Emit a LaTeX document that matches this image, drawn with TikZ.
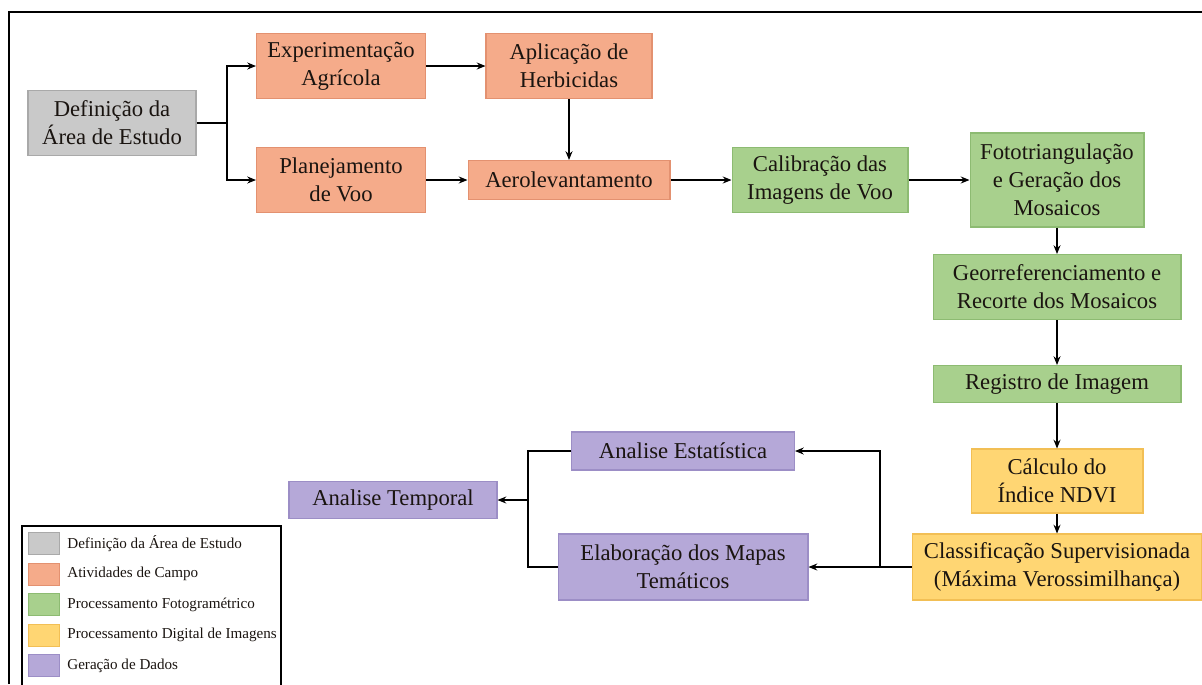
\documentclass[tikz,border=0pt]{standalone}
\usepackage{fontspec}
\setmainfont{Liberation Serif}
\newfontfamily\fonteserif{Liberation Serif}
\usepackage{tikz}
\usetikzlibrary{arrows.meta, positioning}

\definecolor{cinzaF}{HTML}{C9C9C9}
\definecolor{cinzaB}{HTML}{A9A9A9}
\definecolor{laranjaF}{HTML}{F5AB8A}
\definecolor{laranjaB}{HTML}{E39170}
\definecolor{verdeF}{HTML}{A8D08D}
\definecolor{verdeB}{HTML}{8DBB72}
\definecolor{amareloF}{HTML}{FFD673}
\definecolor{amareloB}{HTML}{F2BF55}
\definecolor{roxoF}{HTML}{B5A8D8}
\definecolor{roxoB}{HTML}{9C8EC6}
\definecolor{textoC}{HTML}{1A1410}

\begin{document}
\begin{tikzpicture}[x=0.02cm,y=-0.02cm,>={Stealth[length=5pt,width=4pt]},
	caixa/.style={draw,line width=0.6pt,inner sep=0pt,align=center,text=textoC,
		font=\fonteserif\fontsize{12.9}{15.9}\selectfont},
	cinza/.style={caixa,fill=cinzaF,draw=cinzaB},
	laranja/.style={caixa,fill=laranjaF,draw=laranjaB},
	verde/.style={caixa,fill=verdeF,draw=verdeB},
	amarelo/.style={caixa,fill=amareloF,draw=amareloB},
	roxo/.style={caixa,fill=roxoF,draw=roxoB},
	seta/.style={->,line width=0.6pt},
	amostra/.style={minimum width=0.62cm,minimum height=0.44cm,inner sep=0pt,line width=0.4pt},
	legtexto/.style={anchor=west,inner sep=0pt,text=textoC,font=\fonteserif\fontsize{8.6}{10}\selectfont}]
	\useasboundingbox (0,0) rectangle (1202,684);

	% Draw the frame
	\draw[line width=1.1pt] (9,684) -- (9,12) -- (1202,12);

	% Place the boxes
	\node[cinza, minimum width=3.36cm, minimum height=1.30cm] (def) at (112,123) {Definição da\\Área de Estudo};
	\node[laranja, minimum width=3.38cm, minimum height=1.30cm] (exp) at (341,66) {Experimentação\\Agrícola};
	\node[laranja, minimum width=3.38cm, minimum height=1.30cm] (plan) at (341,180) {Planejamento\\de Voo};
	\node[laranja, minimum width=3.32cm, minimum height=1.30cm] (apl) at (569,66) {Aplicação de\\Herbicidas};
	\node[laranja, minimum width=4.04cm, minimum height=0.78cm] (aero) at (569,180) {Aerolevantamento};
	\node[verde, minimum width=3.52cm, minimum height=1.30cm] (cal) at (820,180) {Calibração das\\Imagens de Voo};
	\node[verde, minimum width=3.48cm, minimum height=1.88cm] (foto) at (1057,180) {Fototriangulação\\e Geração dos\\Mosaicos};
	\node[verde, minimum width=4.96cm, minimum height=1.30cm] (geo) at (1057,287) {Georreferenciamento e\\Recorte dos Mosaicos};
	\node[verde, minimum width=4.96cm, minimum height=0.74cm] (reg) at (1057,384) {Registro de Imagem};
	\node[amarelo, minimum width=3.44cm, minimum height=1.28cm] (calc) at (1057,481) {Cálculo do\\Índice NDVI};
	\node[amarelo, minimum width=5.80cm, minimum height=1.32cm] (clas) at (1057,567) {Classificação Supervisionada\\(Máxima Verossimilhança)};
	\node[roxo, minimum width=4.46cm, minimum height=0.76cm] (est) at (683,451) {Analise Estatística};
	\node[roxo, minimum width=5.00cm, minimum height=1.32cm] (ela) at (683,567) {Elaboração dos Mapas\\Temáticos};
	\node[roxo, minimum width=4.16cm, minimum height=0.74cm] (temp) at (393,500) {Analise Temporal};

	% Draw the connectors
	\coordinate (b1) at (227,123);
	\draw[line width=0.6pt] (def.east) -- (b1);
	\draw[seta] (b1) |- (exp.west);
	\draw[seta] (b1) |- (plan.west);
	\draw[seta] (exp) -- (apl);
	\draw[seta] (apl) -- (aero);
	\draw[seta] (plan) -- (aero);
	\draw[seta] (aero) -- (cal);
	\draw[seta] (cal) -- (foto);
	\draw[seta] (foto) -- (geo);
	\draw[seta] (geo) -- (reg);
	\draw[seta] (reg) -- (calc);
	\draw[seta] (calc) -- (clas);
	\draw[seta] (clas) -- (ela);
	\coordinate (b2) at (880,567);
	\draw[seta] (b2) |- (est.east);
	\coordinate (b3) at (528,500);
	\draw[line width=0.6pt] (est.west) -| (b3) |- (ela.west);
	\draw[seta] (b3) -- (temp.east);

	% Draw the legend
	\draw[line width=0.6pt,fill=white] (22,700) -- (22,526) -- (281,526) -- (281,700);
	\foreach \cor/\txt [count=\i] in {cinza/Definição da Área de Estudo,
		laranja/Atividades de Campo,
		verde/Processamento Fotogramétrico,
		amarelo/Processamento Digital de Imagens,
		roxo/Geração de Dados}
	{
		\node[amostra,fill=\cor F,draw=\cor B] (sw\i) at (44,513+30.5*\i) {};
		\node[legtexto] (lt\i) at (67,513+30.5*\i) {\txt};
	}
\end{tikzpicture}
\end{document}
